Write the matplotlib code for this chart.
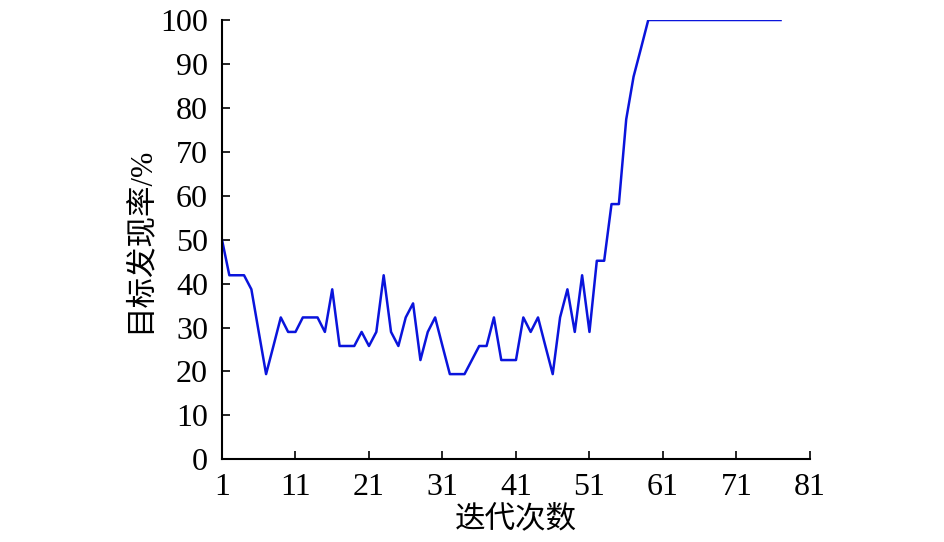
import matplotlib
matplotlib.use("Agg")
import matplotlib.pyplot as plt

# iteration number vs target detection rate (%)
iterations = list(range(1, 78))
detect_rate = [
    50.0, 41.9, 41.9, 41.9, 38.7, 29.0, 19.4, 25.8, 32.3, 29.0,
    29.0, 32.3, 32.3, 32.3, 29.0, 38.7, 25.8, 25.8, 25.8, 29.0,
    25.8, 29.0, 41.9, 29.0, 25.8, 32.3, 35.5, 22.6, 29.0, 32.3,
    25.8, 19.4, 19.4, 19.4, 22.6, 25.8, 25.8, 32.3, 22.6, 22.6,
    22.6, 32.3, 29.0, 32.3, 25.8, 19.4, 32.3, 38.7, 29.0, 41.9,
    29.0, 45.2, 45.2, 58.1, 58.1, 77.4, 87.1, 93.5, 100.0, 100.0,
    100.0, 100.0, 100.0, 100.0, 100.0, 100.0, 100.0, 100.0, 100.0, 100.0,
    100.0, 100.0, 100.0, 100.0, 100.0, 100.0, 100.0,
]
x_ticks = [1, 11, 21, 31, 41, 51, 61, 71, 81]
y_ticks = list(range(0, 101, 10))

fonts = ["Liberation Serif", "Noto Sans CJK SC"]

fig = plt.figure(figsize=(9.45, 5.42), dpi=100)
ax = fig.add_axes([0.2349, 0.1525, 0.6222, 0.8106])

ax.plot(iterations, detect_rate, color="#0a14dc", linewidth=1.8)

ax.set_xlim(1, 81)
ax.set_ylim(0, 100)
ax.set_xticks(x_ticks)
ax.set_yticks(y_ticks)
ax.spines["top"].set_visible(False)
ax.spines["right"].set_visible(False)
ax.spines["left"].set_linewidth(1.5)
ax.spines["bottom"].set_linewidth(1.5)
ax.tick_params(direction="in", length=6, width=1.2, labelsize=23)
ax.tick_params(axis="y", pad=10)
ax.tick_params(axis="x", pad=10)
for lab in ax.get_xticklabels() + ax.get_yticklabels():
    lab.set_family(fonts)

ax.set_xlabel("迭代次数", family=fonts, fontsize=22, labelpad=2)
ax.set_ylabel("目标发现率/%", family=fonts, fontsize=22, labelpad=4)

fig.savefig("out.png", dpi=100)
